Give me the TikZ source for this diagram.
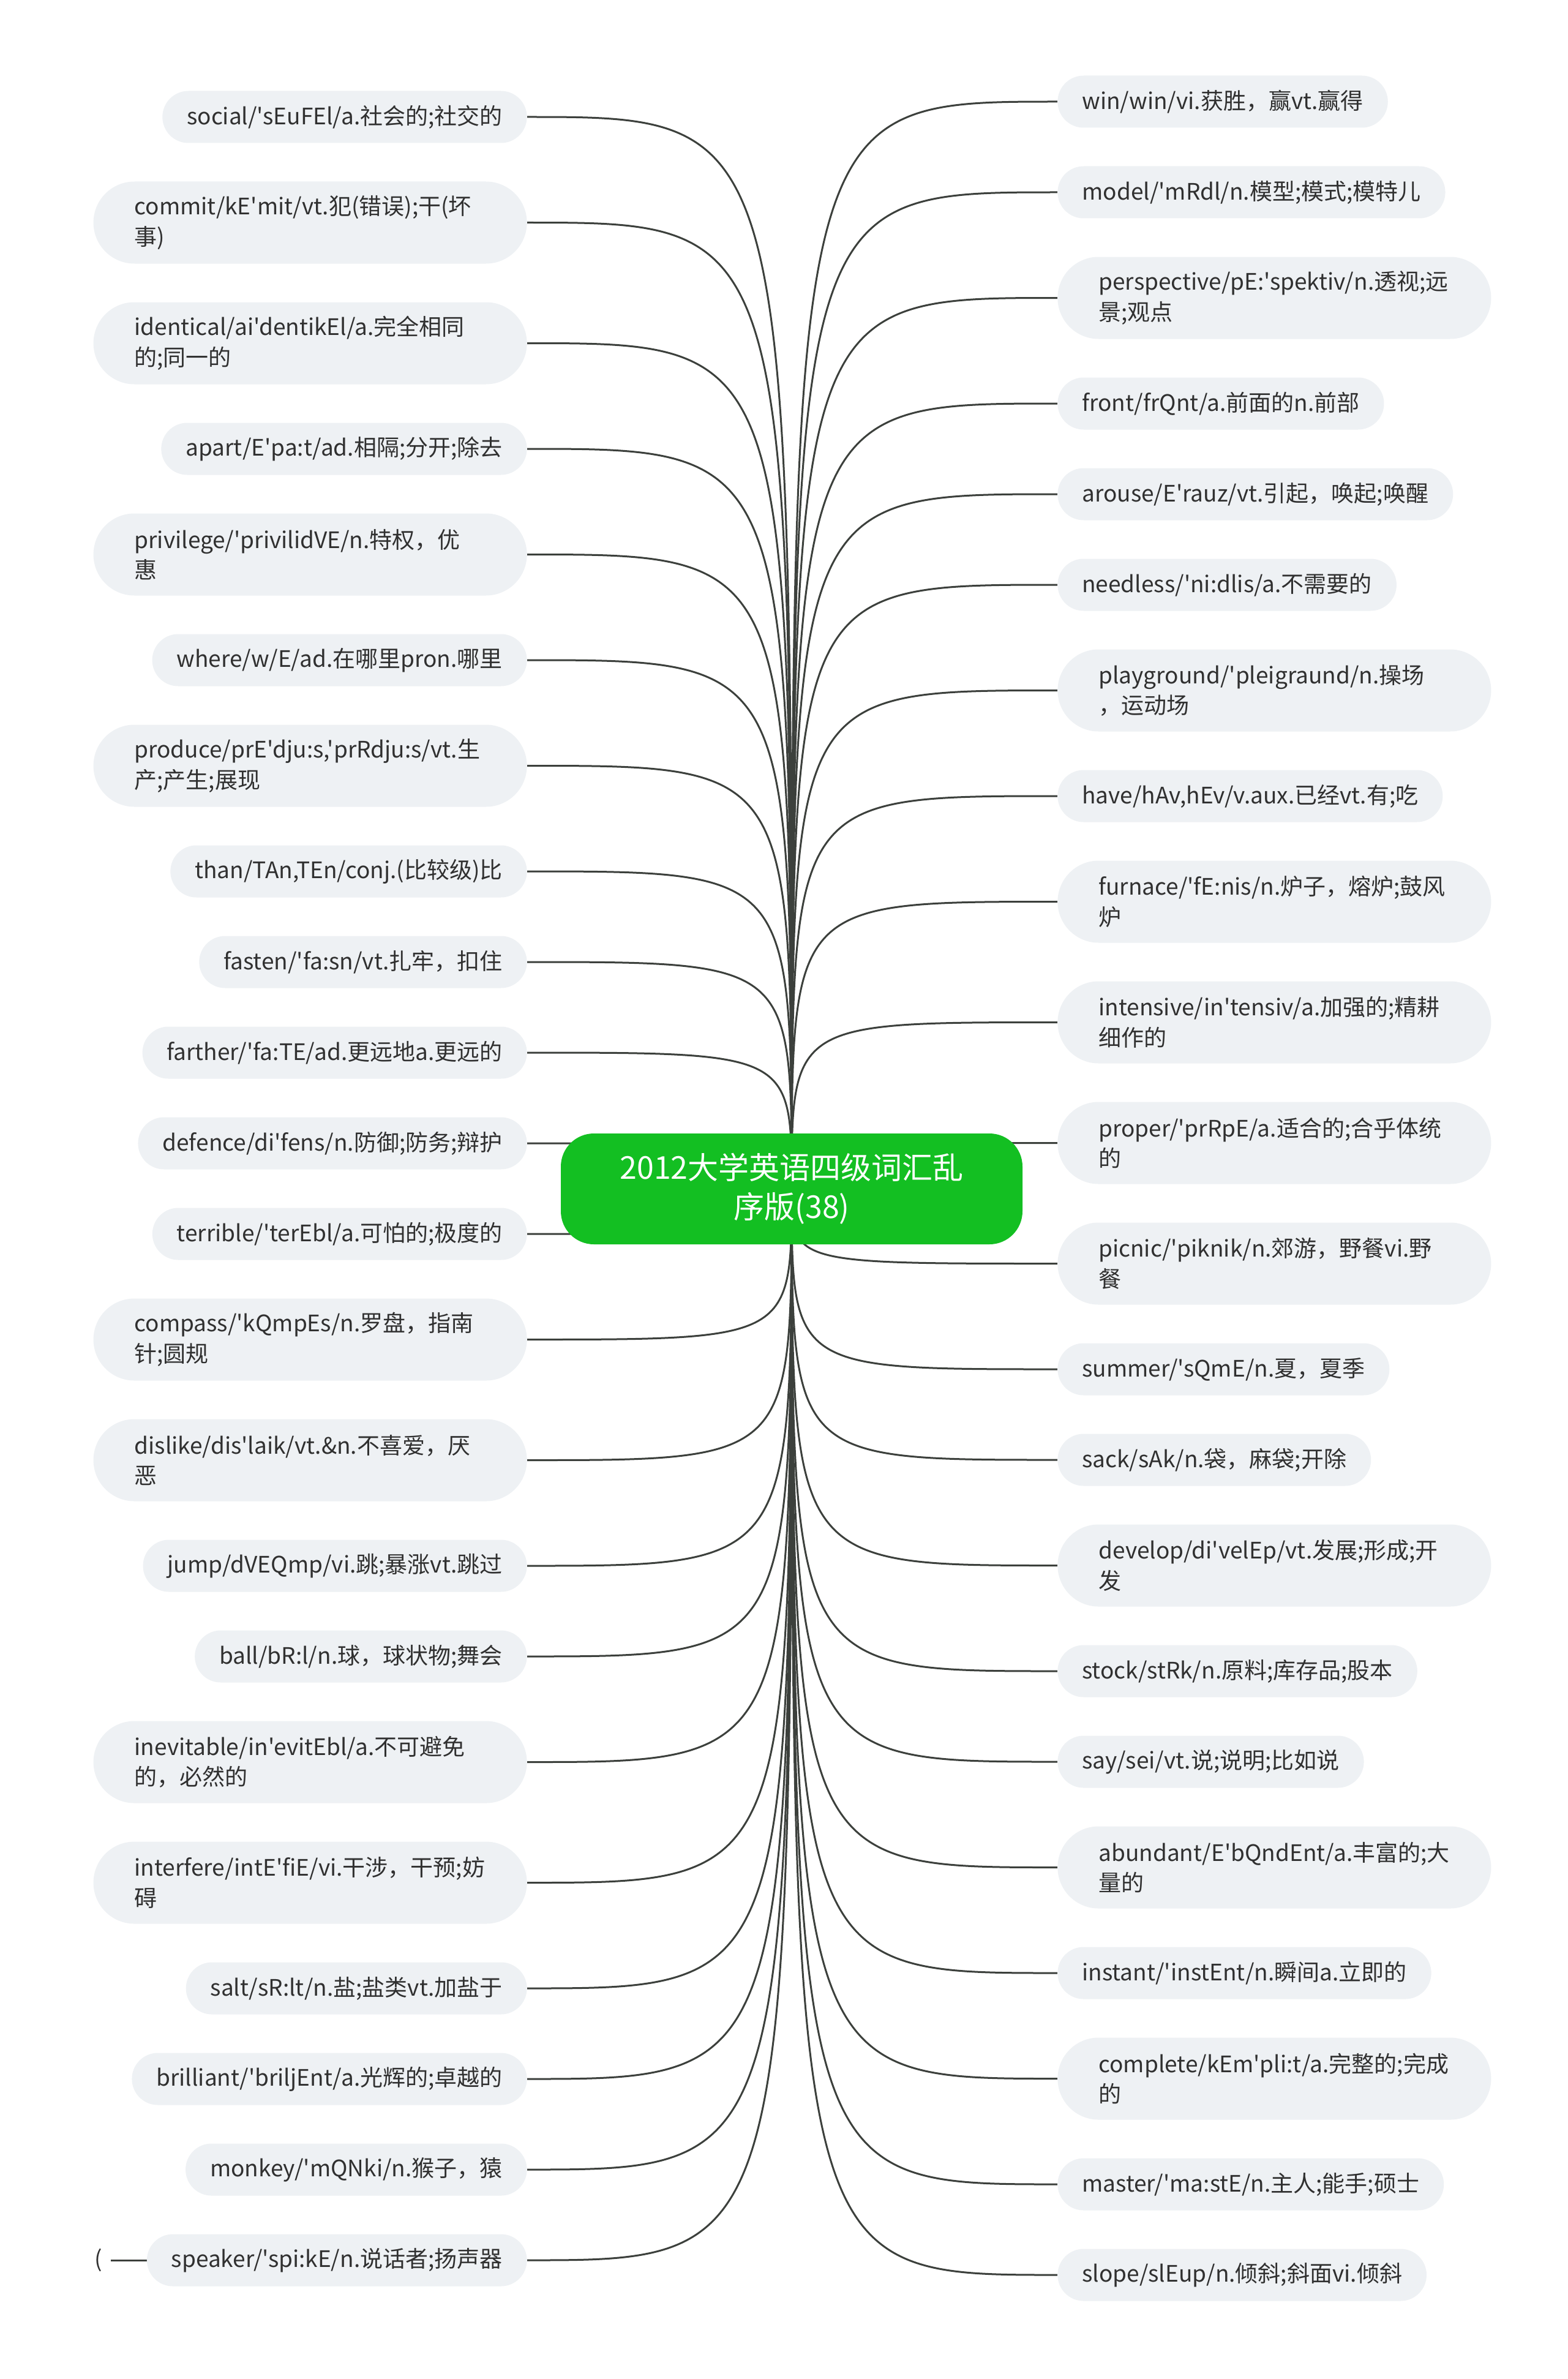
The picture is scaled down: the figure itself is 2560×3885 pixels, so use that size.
\documentclass[tikz,border=0pt]{standalone}
\usetikzlibrary{backgrounds}
\font\lblfont="Noto Sans CJK SC" at 18.5pt
\font\ctrfont="Noto Sans CJK SC" at 25pt
\definecolor{pillbg}{HTML}{EEF1F4}
\definecolor{pilltxt}{HTML}{303030}
\definecolor{ctrgreen}{HTML}{13BF22}
\definecolor{linec}{HTML}{3C403C}
\begin{document}
\begin{tikzpicture}[x=0.5pt,y=-0.5pt,
  pill/.style={fill=pillbg, text=pilltxt, font=\lblfont, inner ysep=0pt, inner xsep=20pt,
    minimum height=42.5pt, rounded corners=21.25pt},
  pilltwo/.style={fill=pillbg, text=pilltxt, font={\lblfont\baselineskip=24.8pt\relax}, inner ysep=0pt,
    inner xsep=33.5pt, minimum height=67pt, text width=287pt, align=left, rounded corners=33.5pt},
  lft/.style={anchor=east},
  rgt/.style={anchor=west},
  conn/.style={draw=linec, line width=1.5pt},
  center/.style={fill=ctrgreen, text=white, font={\ctrfont\baselineskip=32pt\relax}, align=center,
    minimum width=377pt, minimum height=90.5pt, inner sep=0pt, rounded corners=27pt}]
\useasboundingbox (0,0) rectangle (2560,3885);

\node[center] (ctr) at (1293,1941.5) {2012大学英语四级词汇乱\\序版(38)};

% left side
\node[pill,lft] (L1) at (861,191) {social/'sEuFEl/a.社会的;社交的};
\node[pilltwo,lft] (L2) at (861,363.5) {commit/kE'mit/vt.犯(错误);干(坏\\事)};
\node[pilltwo,lft] (L3) at (861,560.5) {identical/ai'dentikEl/a.完全相同\\的;同一的};
\node[pill,lft] (L4) at (861,733) {apart/E'pa:t/ad.相隔;分开;除去};
\node[pilltwo,lft] (L5) at (861,905.5) {privilege/'privilidVE/n.特权，优\\惠};
\node[pill,lft] (L6) at (861,1078) {where/w/E/ad.在哪里pron.哪里};
\node[pilltwo,lft] (L7) at (861,1250.5) {produce/prE'dju:s,'prRdju:s/vt.生\\产;产生;展现};
\node[pill,lft] (L8) at (861,1423) {than/TAn,TEn/conj.(比较级)比};
\node[pill,lft] (L9) at (861,1571) {fasten/'fa:sn/vt.扎牢，扣住};
\node[pill,lft] (L10) at (861,1719) {farther/'fa:TE/ad.更远地a.更远的};
\node[pill,lft] (L11) at (861,1867) {defence/di'fens/n.防御;防务;辩护};
\node[pill,lft] (L12) at (861,2015) {terrible/'terEbl/a.可怕的;极度的};
\node[pilltwo,lft] (L13) at (861,2187.5) {compass/'kQmpEs/n.罗盘，指南\\针;圆规};
\node[pilltwo,lft] (L14) at (861,2384.5) {dislike/dis'laik/vt.\&n.不喜爱，厌\\恶};
\node[pill,lft] (L15) at (861,2557) {jump/dVEQmp/vi.跳;暴涨vt.跳过};
\node[pill,lft] (L16) at (861,2705) {ball/bR:l/n.球，球状物;舞会};
\node[pilltwo,lft] (L17) at (861,2877.5) {inevitable/in'evitEbl/a.不可避免\\的，必然的};
\node[pilltwo,lft] (L18) at (861,3074.5) {interfere/intE'fiE/vi.干涉，干预;妨\\碍};
\node[pill,lft] (L19) at (861,3247) {salt/sR:lt/n.盐;盐类vt.加盐于};
\node[pill,lft] (L20) at (861,3395) {brilliant/'briljEnt/a.光辉的;卓越的};
\node[pill,lft] (L21) at (861,3543) {monkey/'mQNki/n.猴子，猿};
\node[pill,lft] (L22) at (861,3691) {speaker/'spi:kE/n.说话者;扬声器};

% right side
\node[pill,rgt] (R1) at (1727,166) {win/win/vi.获胜，赢vt.赢得};
\node[pill,rgt] (R2) at (1727,314) {model/'mRdl/n.模型;模式;模特儿};
\node[pilltwo,rgt] (R3) at (1727,486.5) {perspective/pE:'spektiv/n.透视;远\\景;观点};
\node[pill,rgt] (R4) at (1727,659) {front/frQnt/a.前面的n.前部};
\node[pill,rgt] (R5) at (1727,807) {arouse/E'rauz/vt.引起，唤起;唤醒};
\node[pill,rgt] (R6) at (1727,955) {needless/'ni:dlis/a.不需要的};
\node[pilltwo,rgt] (R7) at (1727,1127.5) {playground/'pleigraund/n.操场\\，运动场};
\node[pill,rgt] (R8) at (1727,1300) {have/hAv,hEv/v.aux.已经vt.有;吃};
\node[pilltwo,rgt] (R9) at (1727,1472.5) {furnace/'fE:nis/n.炉子，熔炉;鼓风\\炉};
\node[pilltwo,rgt] (R10) at (1727,1669.5) {intensive/in'tensiv/a.加强的;精耕\\细作的};
\node[pilltwo,rgt] (R11) at (1727,1866.5) {proper/'prRpE/a.适合的;合乎体统\\的};
\node[pilltwo,rgt] (R12) at (1727,2063.5) {picnic/'piknik/n.郊游，野餐vi.野\\餐};
\node[pill,rgt] (R13) at (1727,2236) {summer/'sQmE/n.夏，夏季};
\node[pill,rgt] (R14) at (1727,2384) {sack/sAk/n.袋，麻袋;开除};
\node[pilltwo,rgt] (R15) at (1727,2556.5) {develop/di'velEp/vt.发展;形成;开\\发};
\node[pill,rgt] (R16) at (1727,2729) {stock/stRk/n.原料;库存品;股本};
\node[pill,rgt] (R17) at (1727,2877) {say/sei/vt.说;说明;比如说};
\node[pilltwo,rgt] (R18) at (1727,3049.5) {abundant/E'bQndEnt/a.丰富的;大\\量的};
\node[pill,rgt] (R19) at (1727,3222) {instant/'instEnt/n.瞬间a.立即的};
\node[pilltwo,rgt] (R20) at (1727,3394.5) {complete/kEm'pli:t/a.完整的;完成\\的};
\node[pill,rgt] (R21) at (1727,3567) {master/'ma:stE/n.主人;能手;硕士};
\node[pill,rgt] (R22) at (1727,3715) {slope/slEup/n.倾斜;斜面vi.倾斜};

% stray stub at the far left of speaker
\node[font=\lblfont, text=pilltxt, inner sep=0pt] (paren) at (161,3691) {(};
\coordinate (stub) at (181,3691);

\begin{scope}[on background layer]
  \fill[white] (0,0) rectangle (2560,3885);
  \foreach \i in {1,...,22} {
    \draw[conn] (ctr.center) .. controls (ctr.center |- L\i.east) .. (L\i.east);
    \draw[conn] (ctr.center) .. controls (ctr.center |- R\i.west) .. (R\i.west);
  }
  \draw[conn] (L22.west) -- (stub);
\end{scope}
\end{tikzpicture}
\end{document}
